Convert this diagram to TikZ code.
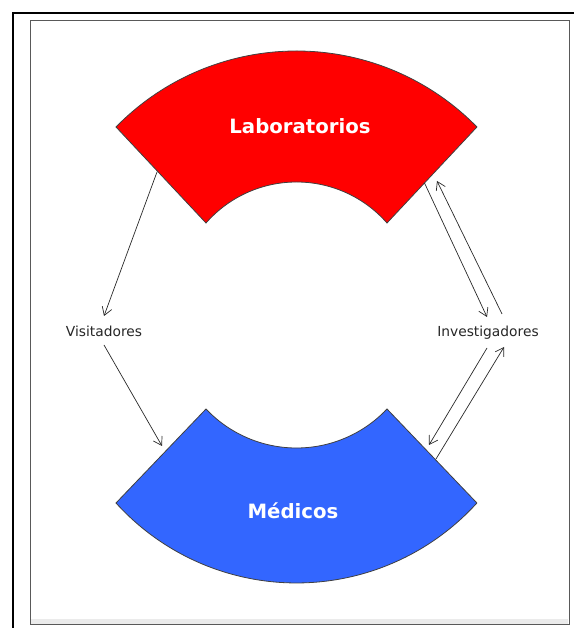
\documentclass[tikz,border=0pt]{standalone}
\usepackage{fontspec}
\setmainfont{DejaVu Sans}
\usetikzlibrary{arrows.meta}
\definecolor{labred}{RGB}{255,0,0}
\definecolor{medblue}{RGB}{51,102,255}
\definecolor{linegray}{RGB}{40,40,40}
\tikzset{
  sector/.style={draw=black!75, line width=0.8bp},
  bigtext/.style={text=white, font=\bfseries\fontsize{19.7bp}{22bp}\selectfont, inner sep=0pt, anchor=base},
  smalltext/.style={text=black!85, font=\fontsize{13.8bp}{16bp}\selectfont, inner sep=0pt, anchor=base},
  arr/.style={draw=linegray, line width=0.7bp, -{Straight Barb[length=8bp,width=10bp]}}
}
\begin{document}
\begin{tikzpicture}[x=1bp,y=1bp]
\useasboundingbox (0,0) rectangle (574,628);
% frames
\fill[black!8] (31,3) rectangle (568,9);
\draw[gray!70!black, line width=1bp] (30,3) rectangle (569,607);
\draw[black, line width=2bp] (574,615) -- (13,615) -- (13,0);
% red sector
\draw[sector, fill=labred] (116,501) arc[start angle=135.67, end angle=44.33, radius=252.3]
  -- (387,405) arc[start angle=41.26, end angle=138.74, radius=120.4] -- cycle;
% blue sector
\draw[sector, fill=medblue] (206,219) -- (116,125) arc[start angle=222.2, end angle=317.8, radius=243.6]
  -- (387,219) arc[start angle=316.63, end angle=223.37, radius=124.5] -- cycle;
% texts
\node[bigtext] (lab) at (300,494) {Laboratorios};
\node[bigtext] (med) at (293,109) {Médicos};
\node[smalltext] (vis) at (104,291) {Visitadores};
\node[smalltext] (inv) at (488,291) {Investigadores};
% connector end points
\coordinate (labL) at (157,456);
\coordinate (labR) at (424.5,445);
\coordinate (labRin) at (437,447);
\coordinate (medL) at (162,182);
\coordinate (medRin) at (429,183);
\coordinate (medR) at (436,169);
\coordinate (visT) at (104,312);
\coordinate (visB) at (104,283);
\coordinate (invTL) at (487,311);
\coordinate (invTR) at (502,314);
\coordinate (invBL) at (487,280);
\coordinate (invBR) at (504,281);
% arrows
\draw[arr] (labL) -- (visT);
\draw[arr] (visB) -- (medL);
\draw[arr] (labR) -- (invTL);
\draw[arr] (invTR) -- (labRin);
\draw[arr] (invBL) -- (medRin);
\draw[arr] (medR) -- (invBR);
\end{tikzpicture}
\end{document}
